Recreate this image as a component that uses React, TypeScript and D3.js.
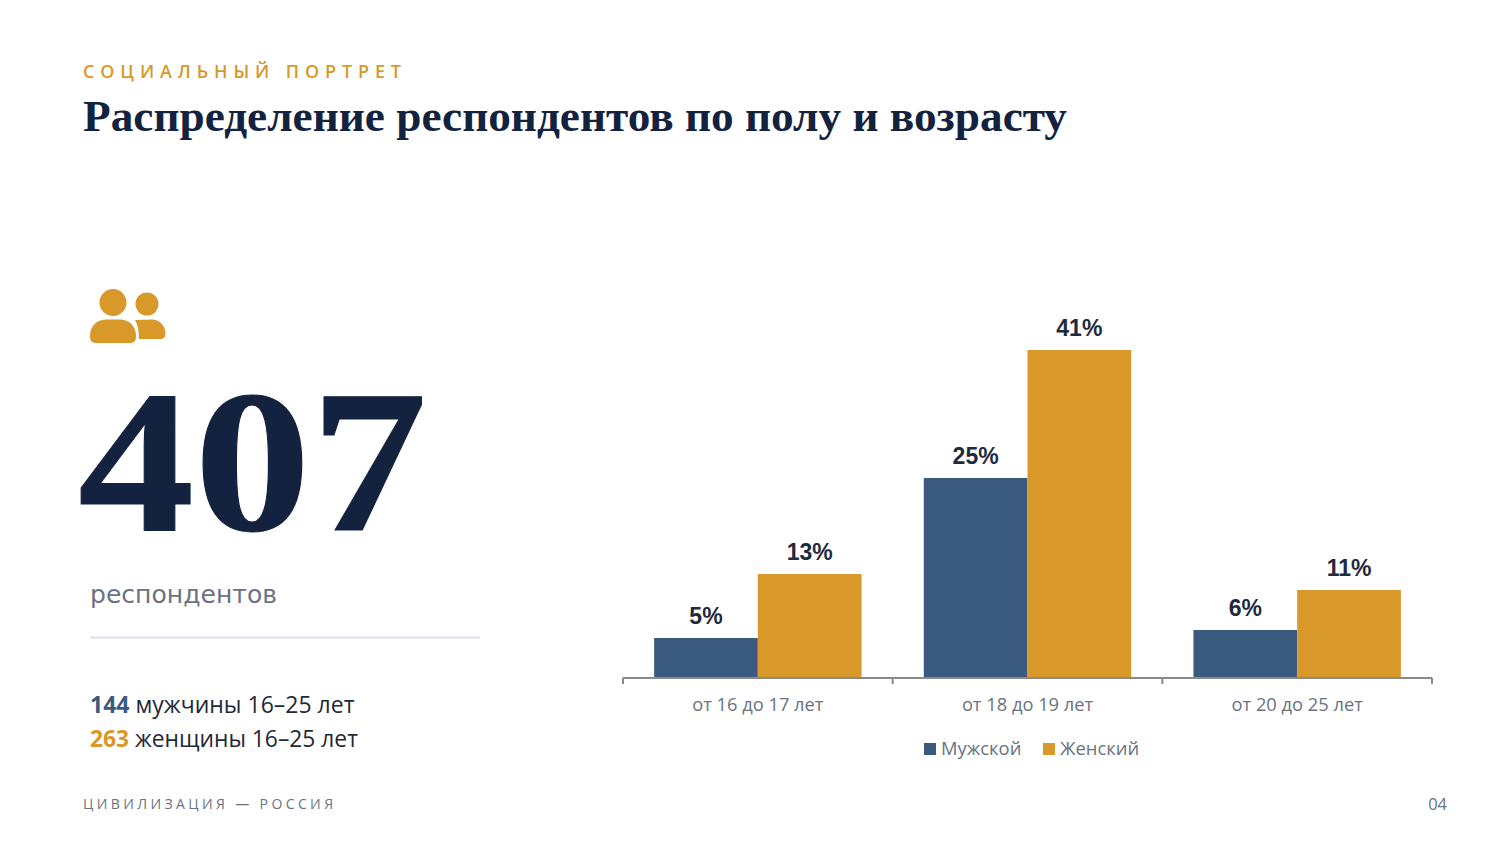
import React from "react";
import * as d3 from "d3";

const categories = ["от 16 до 17 лет", "от 18 до 19 лет", "от 20 до 25 лет"];
const seriesNames = ["Мужской", "Женский"];
const maleValues = [5, 25, 6];
const femaleValues = [13, 41, 11];
const seriesColors = ["#3B5A80", "#D8982A"];

const NAVY = "#12223F";
const GREY = "#6B7280";
const BODY = "'Open Sans', 'Noto Sans', sans-serif";
const SERIF = "'Liberation Serif', serif";

const x0 = d3.scaleBand<string>().domain(categories).range([623, 1432]);
const x1 = d3
  .scaleBand<string>()
  .domain(seriesNames)
  .range([0, x0.bandwidth()])
  .paddingInner(0)
  .paddingOuter(0.3);
const y = d3.scaleLinear().domain([0, 41]).range([678, 350]);

export default function App() {
  const series = [maleValues, femaleValues];
  const ticks = [...categories.map((c) => x0(c)!), 1432];
  return (
    <svg
      width={1500}
      height={844}
      viewBox="0 0 1500 844"
      style={{ position: "absolute", left: 0, top: 0, background: "#fff" }}
    >
      <text x={83} y={78} fontFamily={BODY} fontSize={18} fontWeight={600} fill="#D8982A" textLength={318} lengthAdjust="spacing">
        СОЦИАЛЬНЫЙ ПОРТРЕТ
      </text>
      <text x={83} y={131} fontFamily={SERIF} fontSize={44} fontWeight={700} fill={NAVY} textLength={984} lengthAdjust="spacingAndGlyphs">
        Распределение респондентов по полу и возрасту
      </text>

      {/* icon */}
      <g fill="#D8982A">
        <circle cx={113} cy={302.5} r={13.5} />
        <circle cx={147} cy={304} r={11.5} />
        <path d="M90 336 C90 326 97 319.5 106 319.5 L120 319.5 C129 319.5 136 326 136 336 C136 341 134 343 130 343 L96 343 C92 343 90 341 90 336 Z" />
        <path d="M135 320 L153 319.5 C160 320 165.500 326 165.500 333.500 C165.500 337 164 339 160 339 L139 339 C139 332 138 325 135 320 Z" />
      </g>

      <text x={78} y={530} fontFamily={SERIF} fontSize={204} fontWeight={700} fill={NAVY} textLength={349} lengthAdjust="spacingAndGlyphs" stroke={NAVY} strokeWidth={1}>
        407
      </text>
      <text x={90} y={603} fontFamily="'DejaVu Sans', sans-serif" fontSize={25} fill={GREY} textLength={187} lengthAdjust="spacingAndGlyphs">
        респондентов
      </text>
      <line x1={90} x2={480} y1={637.5} y2={637.5} stroke="#DDDFE8" strokeWidth={2} />

      <text x={90} y={713} fontFamily={BODY} fontSize={23} fill="#1F2937">
        <tspan fontWeight={700} fill="#3B5A80">144</tspan> мужчины 16–25 лет
      </text>
      <text x={90} y={747} fontFamily={BODY} fontSize={22.8} fill="#1F2937">
        <tspan fontWeight={700} fill="#D8982A">263</tspan> женщины 16–25 лет
      </text>

      <text x={83} y={809} fontFamily={BODY} fontSize={14} fill={GREY} textLength={250} lengthAdjust="spacing">
        ЦИВИЛИЗАЦИЯ — РОССИЯ
      </text>
      <text x={1447} y={810} textAnchor="end" fontFamily={BODY} fontSize={16.5} fill={GREY}>
        04
      </text>

      {/* bars */}
      {categories.map((c, i) =>
        seriesNames.map((s, k) => {
          const v = series[k][i];
          const bx = x0(c)! + x1(s)!;
          return (
            <g key={c + s}>
              <rect x={bx} y={y(v)} width={x1.bandwidth()} height={y(0) - y(v)} fill={seriesColors[k]} />
              <text
                x={bx + x1.bandwidth() / 2}
                y={y(v) - 14}
                textAnchor="middle"
                fontFamily="'Liberation Sans', sans-serif"
                fontWeight={700}
                fontSize={23}
                fill="#1F2A3C"
              >
                {v}%
              </text>
            </g>
          );
        })
      )}

      {/* axis */}
      <line x1={623} x2={1432} y1={y(0)} y2={y(0)} stroke="#8A8A8A" strokeWidth={2} />
      {ticks.map((t) => (
        <line key={t} x1={t} x2={t} y1={y(0)} y2={y(0) + 6} stroke="#8A8A8A" strokeWidth={2} />
      ))}
      {categories.map((c) => (
        <text
          key={c}
          x={x0(c)! + x0.bandwidth() / 2}
          y={711}
          textAnchor="middle"
          fontFamily={BODY}
          fontSize={18.3}
          fill={GREY}
        >
          {c}
        </text>
      ))}

      {/* legend */}
      {seriesNames.map((s, k) => {
        const lx = [924, 1043][k];
        return (
          <g key={s}>
            <rect x={lx} y={743} width={12} height={12} fill={seriesColors[k]} />
            <text x={lx + 17} y={755} fontFamily={BODY} fontSize={18.4} fill={GREY}>
              {s}
            </text>
          </g>
        );
      })}
    </svg>
  );
}
